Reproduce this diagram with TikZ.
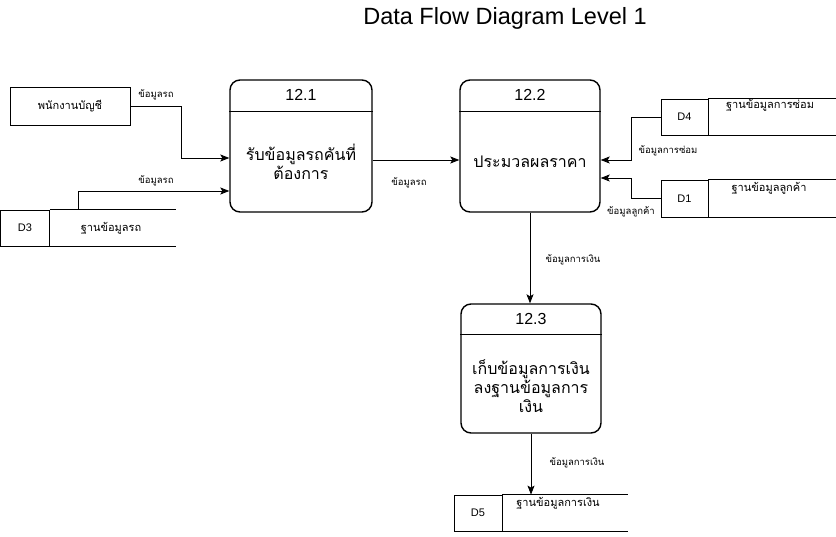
\documentclass[tikz,border=0pt]{standalone}
\usepackage{fontspec}
\setmainfont{Liberation Sans}
\newfontfamily\thai[Script=Thai]{Loma}
\usetikzlibrary{arrows.meta,calc}
\begin{document}
\begin{tikzpicture}[x=1pt,y=-1pt,
  proc/.style={draw, line width=1.4pt, rounded corners=10pt, minimum width=140pt, minimum height=132pt, inner sep=0pt},
  divider/.style={line width=1pt},
  num/.style={font=\fontsize{16}{19}\selectfont},
  body/.style={font=\thai\fontsize{16}{19}\selectfont, align=center},
  ent/.style={draw, line width=0.8pt, minimum width=120pt, minimum height=38pt, inner sep=0pt, font=\thai\fontsize{11}{13}\selectfont},
  sid/.style={draw, line width=0.8pt, minimum width=48pt, minimum height=36pt, inner sep=0pt, font=\fontsize{11}{13}\selectfont},
  sline/.style={line width=0.8pt},
  sname/.style={font=\thai\fontsize{11}{13}\selectfont, inner sep=0pt},
  lbl/.style={font=\thai\fontsize{9.5}{11}\selectfont, inner sep=0pt},
  flow/.style={line width=0.8pt, -{Stealth[length=9pt,width=7pt,inset=2pt]}},
  ttl/.style={font=\fontsize{23.5}{28}\selectfont}
]
\useasboundingbox (0,0) rectangle (836,537);
\fill[white] (0,0) rectangle (836,537);

\node[ttl] (title) at (505,18) {Data Flow Diagram Level 1};

% external entity
\node[ent] (e1) at (70,106) {พนักงานบัญชี};

% processes
\node[proc, minimum width=142pt] (p1) at (301,146) {};
\draw[divider] ($(p1.north west)+(0,32)$) -- ($(p1.north east)+(0,32)$);
\node[num] (p1n) at ($(p1.north)+(0,16)$) {12.1};
\node[body] (p1b) at (301,161.5) {รับข้อมูลรถคันที่\\ต้องการ};

\node[proc] (p2) at (530,146) {};
\draw[divider] ($(p2.north west)+(0,32)$) -- ($(p2.north east)+(0,32)$);
\node[num] (p2n) at ($(p2.north)+(0,16)$) {12.2};
\node[body] (p2b) at (530,162) {ประมวลผลราคา};

\node[proc, minimum height=129pt] (p3) at (531,368.5) {};
\draw[divider] ($(p3.north west)+(0,31)$) -- ($(p3.north east)+(0,31)$);
\node[num] (p3n) at ($(p3.north)+(0,16)$) {12.3};
\node[body] (p3b) at (531,386) {เก็บข้อมูลการเงิน\\ลงฐานข้อมูลการ\\เงิน};

% data stores
\node[sid, minimum width=49pt] (d3) at (24.9,228) {D3};
\draw[sline] (d3.north east) -- ++(126,0);
\draw[sline] (d3.south east) -- ++(126,0);
\node[sname] (d3n) at (111,228) {ฐานข้อมูลรถ};

\node[sid, minimum width=47pt] (d4) at (684.5,117) {D4};
\draw[sline] (d4.north east) -- ++(140,0);
\draw[sline] (d4.south east) -- ++(140,0);
\node[sname] (d4n) at (770,105) {ฐานข้อมูลการซ่อม};

\node[sid, minimum width=47pt, minimum height=37pt] (d1) at (684.5,198.5) {D1};
\draw[sline] (d1.north east) -- ++(140,0);
\draw[sline] (d1.south east) -- ++(140,0);
\node[sname] (d1n) at (769,188) {ฐานข้อมูลลูกค้า};

\node[sid] (d5) at (478,513) {D5};
\draw[sline] (d5.north east) -- ++(126,0);
\draw[sline] (d5.south east) -- ++(126,0);
\node[sname] (d5n) at (558,503) {ฐานข้อมูลการเงิน};

% connectors
\coordinate (b1) at (181,158);
\draw[flow] (e1.east) -| (b1) -- (b1 -| p1.west);
\draw[flow] ($(d3.north east)+(29,0)$) |- ($(p1.west)+(0,45)$);
\draw[flow] ($(p1.east)+(0,14)$) -- ($(p2.west)+(0,14)$);
\coordinate (b4) at (631,160);
\draw[flow] (d4.west) -| (b4) -- (b4 -| p2.east);
\coordinate (b5) at (631,178);
\draw[flow] (d1.west) -| (b5) -- (b5 -| p2.east);
\draw[flow] (p2.south) -- (p2.south |- p3.north);
\draw[flow] (p3.south) -- (p3.south |- d5.north);

% labels
\node[lbl] (l1) at (156,95) {ข้อมูลรถ};
\node[lbl] (l2) at (156,181) {ข้อมูลรถ};
\node[lbl] (l3) at (409,183) {ข้อมูลรถ};
\node[lbl] (l4) at (668,151) {ข้อมูลการซ่อม};
\node[lbl] (l5) at (631,212) {ข้อมูลลูกค้า};
\node[lbl] (l6) at (573,260) {ข้อมูลการเงิน};
\node[lbl] (l7) at (577,463) {ข้อมูลการเงิน};
\end{tikzpicture}
\end{document}
